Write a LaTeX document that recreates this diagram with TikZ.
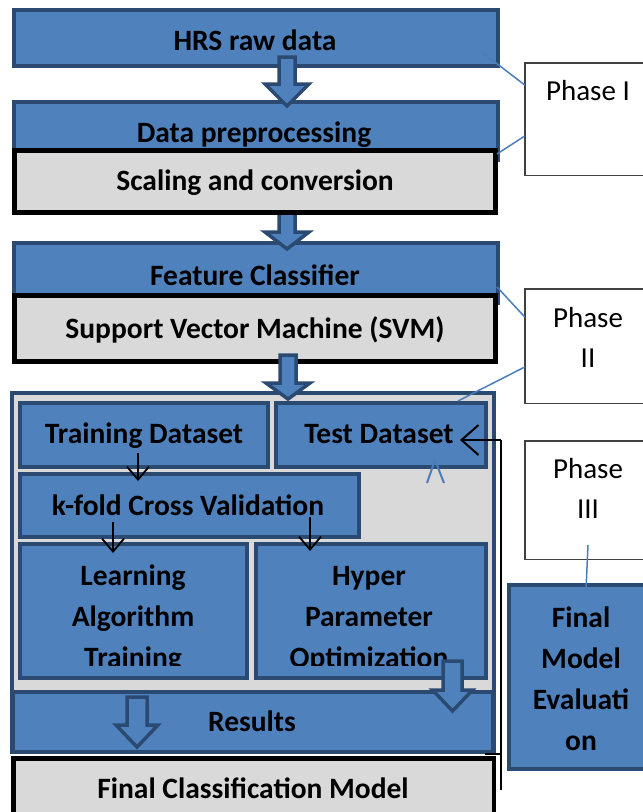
\documentclass[tikz,border=0pt]{standalone}
\usepackage{fontspec}
\setmainfont{Carlito}
\usetikzlibrary{arrows.meta}
\definecolor{boxblue}{HTML}{4F81BD}
\definecolor{dkblue}{HTML}{2B4A72}
\definecolor{boxgray}{HTML}{D9D9D9}
\definecolor{phgray}{HTML}{404040}
\definecolor{lineblue}{HTML}{4A7EBB}
\newcommand\blkarr[7]{\draw[#1] (#2,#5) -- (#3,#5) -- (#3,#6) -- ({(#2+#3)/2+#4},#6) -- ({(#2+#3)/2},#7) -- ({(#2+#3)/2-#4},#6) -- (#2,#6) -- cycle;}
\begin{document}
\begin{tikzpicture}[x=1pt,y=-1pt,
  bluebox/.style={draw=dkblue,line width=4pt,fill=boxblue,inner sep=0pt,outer sep=0pt},
  graybox/.style={draw=black,line width=4.5pt,fill=boxgray,inner sep=0pt,outer sep=0pt},
  contbox/.style={draw=dkblue,line width=4pt,fill=boxgray,inner sep=0pt,outer sep=0pt},
  phasebox/.style={draw=phgray,line width=1.5pt,fill=white,inner sep=0pt,outer sep=0pt},
  lbl/.style={font=\bfseries\fontsize{29.5}{34}\selectfont,inner sep=0pt,anchor=base},
  plbl/.style={font=\fontsize{29}{34}\selectfont,inner sep=0pt,anchor=base},
  blockarrow/.style={draw=dkblue,line width=3.5pt,fill=boxblue,line join=miter},
  callout/.style={draw=lineblue,line width=1.5pt},
  thinarrow/.style={draw=black,line width=1.8pt,-{Straight Barb[length=13pt,width=22pt]}},
  bigarrow/.style={draw=black,line width=2pt,-{Straight Barb[length=17pt,width=30pt]}},
  thinline/.style={draw=black,line width=1.8pt}
]
\useasboundingbox (0,0) rectangle (643,812);

% ---------- Phase I ----------
\node[phasebox,minimum width=130.5pt,minimum height=112.5pt] (ph1) at (590,119) {};
\node[plbl] (ph1t) at (588,100) {Phase I};

% ---------- Phase I boxes ----------
\node[bluebox,minimum width=484pt,minimum height=56pt] (hrs) at (256,38) {};
\node[lbl] (hrst) at (255,50) {HRS raw data};
\node[bluebox,minimum width=484pt,minimum height=58pt] (prep) at (256,131) {};
\node[lbl] (prept) at (254,142) {Data preprocessing};
\blkarr{blockarrow}{279}{295}{22}{57}{84}{106}

% ---------- Phase II boxes ----------
\node[bluebox,minimum width=484pt,minimum height=60pt] (feat) at (256,273) {};
\node[lbl] (featt) at (255,285) {Feature Classifier};
\node[graybox,minimum width=481pt,minimum height=66pt] (svm) at (255,328.5) {};
\node[lbl] (svmt) at (255,338) {Support Vector Machine (SVM)};
\blkarr{blockarrow}{279}{295}{22}{208}{232}{249}

\node[graybox,minimum width=481pt,minimum height=62pt] (scal) at (255,181.5) {};
\node[lbl] (scalt) at (255,190) {Scaling and conversion};

% callouts Phase I
\coordinate (c1a) at (483,53);
\coordinate (c1b) at (ph1.west |- 0,85);
\coordinate (c2a) at (497,154);
\coordinate (c2b) at (ph1.west |- 0,136);
\draw[callout] (c1a) -- (c1b);
\draw[callout] (c2a) -- (c2b);

% ---------- Container ----------
\node[contbox,minimum width=482pt,minimum height=359pt] (cont) at (253,572.5) {};
\node[bluebox,minimum width=248pt,minimum height=64pt] (train) at (144,435) {};
\node[lbl] (traint) at (144,443) {Training Dataset};
\node[bluebox,minimum width=210pt,minimum height=64pt] (test) at (381,435) {};
\node[lbl] (testt) at (379,443) {Test Dataset};
\node[bluebox,minimum width=339pt,minimum height=63pt] (kfold) at (189.5,505.5) {};
\node[lbl] (kfoldt) at (188,515) {k-fold Cross Validation};
\node[bluebox,minimum width=227pt,minimum height=134pt] (learn) at (133.5,611) {};
\node[bluebox,minimum width=230pt,minimum height=134pt] (hyper) at (371,611) {};
\begin{scope}
  \clip (18,542) rectangle (490,665);
  \node[lbl] (learn1) at (133,585) {Learning};
  \node[lbl] (learn2) at (133,626) {Algorithm};
  \node[lbl] (learn3) at (133,667) {Training};
  \node[lbl] (hyper1) at (369,585) {Hyper};
  \node[lbl] (hyper2) at (369,626) {Parameter};
  \node[lbl] (hyper3) at (369,667) {Optimization};
\end{scope}
\node[bluebox,minimum width=480pt,minimum height=60pt] (res) at (253,722) {};
\node[lbl] (rest) at (252,731) {Results};
\blkarr{blockarrow}{127}{147}{21}{697}{725}{747}
\blkarr{blockarrow}{443}{462}{20}{661}{690}{711}

\blkarr{blockarrow}{280}{296}{22}{355}{383}{399}

% small arrows
\coordinate (s1a) at (138,453); \coordinate (s1b) at (138,481);
\coordinate (s2a) at (113,522); \coordinate (s2b) at (113,553);
\coordinate (s3a) at (310,517); \coordinate (s3b) at (310,551);
\draw[thinarrow] (s1a) -- (s1b);
\draw[thinarrow] (s2a) -- (s2b);
\draw[thinarrow] (s3a) -- (s3b);

% caret
\coordinate (ca1) at (427,483); \coordinate (ca2) at (435,460); \coordinate (ca3) at (444,483);
\draw[callout,line width=2pt] (ca1) -- (ca2) -- (ca3);

% ---------- Final classification ----------
\node[graybox,minimum width=480.5pt,minimum height=61.5pt] (fcm) at (253.5,789) {};
\node[lbl] (fcmt) at (253,798) {Final Classification Model};

% feedback line
\coordinate (fbtop) at (501,440);
\coordinate (fbbot) at (501,790);
\coordinate (fbtip) at (460,440);
\coordinate (tk1) at (485,754); \coordinate (tk2) at (502,754);
\draw[thinline] (fbbot) -- (fbtop);
\draw[bigarrow] (fbtop) -- (fbtip);
\draw[thinline] (tk1) -- (tk2);

% ---------- Phase II box ----------
\node[phasebox,minimum width=130.5pt,minimum height=114.5pt] (ph2) at (590,346) {};
\node[plbl] (ph2a) at (588,327) {Phase};
\node[plbl] (ph2b) at (588,367) {II};
\coordinate (c3a) at (497,287); \coordinate (c3b) at (ph2.west |- 0,317);
\coordinate (c4a) at (458,401); \coordinate (c4b) at (ph2.west |- 0,367);
\draw[callout] (c3a) -- (c3b);
\draw[callout] (c4b) -- (c4a);

% ---------- Phase III ----------
\node[phasebox,minimum width=130.5pt,minimum height=118.5pt] (ph3) at (590,500) {};
\node[plbl] (ph3a) at (588,478) {Phase};
\node[plbl] (ph3b) at (588,518) {III};

\node[bluebox,minimum width=149pt,minimum height=184pt] (fme) at (583.5,677) {};
\node[lbl] (fme1) at (581,627) {Final};
\node[lbl] (fme2) at (581,668) {Model};
\node[lbl] (fme3) at (581,709) {Evaluati};
\node[lbl] (fme4) at (581,750) {on};
\coordinate (c5a) at (588,545); \coordinate (c5b) at (586,590);
\draw[callout] (c5a) -- (c5b);
\end{tikzpicture}
\end{document}
